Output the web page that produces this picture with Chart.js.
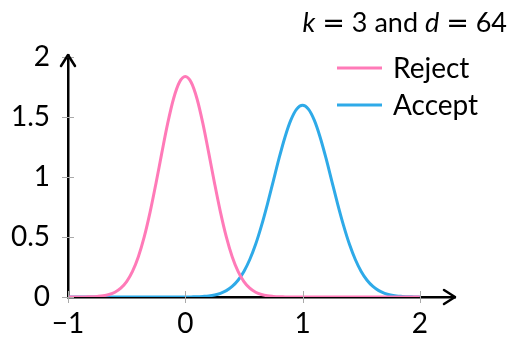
<!DOCTYPE html>
<html>
<head>
<meta charset="utf-8">
<script src="https://cdn.jsdelivr.net/npm/chart.js@4.4.1/dist/chart.umd.min.js"></script>
<style>
  html, body { margin: 0; padding: 0; background: #fff; }
  #wrap { width: 510px; height: 339px; }
</style>
</head>
<body>
<div id="wrap"><canvas id="chart" width="510" height="339"></canvas></div>
<script>
// x positions (step 0.05 from -1 to 2)
const xValues = [
  -1, -0.95, -0.9, -0.85, -0.8, -0.75, -0.7, -0.65, -0.6, -0.55,
  -0.5, -0.45, -0.4, -0.35, -0.3, -0.25, -0.2, -0.15, -0.1, -0.05,
  0, 0.05, 0.1, 0.15, 0.2, 0.25, 0.3, 0.35, 0.4, 0.45,
  0.5, 0.55, 0.6, 0.65, 0.7, 0.75, 0.8, 0.85, 0.9, 0.95,
  1, 1.05, 1.1, 1.15, 1.2, 1.25, 1.3, 1.35, 1.4, 1.45,
  1.5, 1.55, 1.6, 1.65, 1.7, 1.75, 1.8, 1.85, 1.9, 1.95, 2
];
const rejectValues = [
  0, 0, 0, 0.001, 0.002, 0.005, 0.010, 0.021, 0.040, 0.074,
  0.129, 0.214, 0.336, 0.501, 0.708, 0.948, 1.203, 1.449, 1.655, 1.792,
  1.84, 1.792, 1.655, 1.449, 1.203, 0.948, 0.708, 0.501, 0.336, 0.214,
  0.129, 0.074, 0.040, 0.021, 0.010, 0.005, 0.002, 0.001, 0, 0,
  0, 0, 0, 0, 0, 0, 0, 0, 0, 0,
  0, 0, 0, 0, 0, 0, 0, 0, 0, 0, 0
];
const acceptValues = [
  0, 0, 0, 0, 0, 0, 0, 0, 0, 0,
  0, 0, 0, 0, 0, 0, 0, 0, 0, 0,
  0, 0.001, 0.002, 0.005, 0.009, 0.017, 0.031, 0.053, 0.088, 0.140,
  0.213, 0.313, 0.440, 0.596, 0.774, 0.966, 1.159, 1.334, 1.476, 1.568,
  1.6, 1.568, 1.476, 1.334, 1.159, 0.966, 0.774, 0.596, 0.440, 0.313,
  0.213, 0.140, 0.088, 0.053, 0.031, 0.017, 0.009, 0.005, 0.002, 0.001, 0
];
const xTicks = [-1, 0, 1, 2];
const yTicks = [0, 0.5, 1, 1.5, 2];
const seriesNames = ['Reject', 'Accept'];

const PINK = '#ff7ab8';
const BLUE = '#2eaae8';
const FONT = 'Lato, "Open Sans", sans-serif';
const MATH = '"DejaVu Sans", sans-serif';

function pts(ys) {
  return xValues.map((x, i) => ({ x: x, y: ys[i] }));
}

function fmtTick(v) {
  // minus sign like the reference
  return v < 0 ? '\u2212' + Math.abs(v) : String(v);
}

// arrows, tick marks, title and legend
const decorPlugin = {
  id: 'decor',
  afterDatasetsDraw(chart) {
    const ctx = chart.ctx;
    const xs = chart.scales.x, ys = chart.scales.y;
    const x0 = xs.getPixelForValue(-1);
    const y0 = ys.getPixelForValue(0);
    const right = chart.chartArea.right, top = chart.chartArea.top;

    ctx.save();
    // small grey ticks crossing the axes
    ctx.strokeStyle = '#aaa';
    ctx.lineWidth = 1;
    yTicks.forEach(v => {
      const y = Math.round(ys.getPixelForValue(v)) + 0.5;
      ctx.beginPath(); ctx.moveTo(x0 - 6, y); ctx.lineTo(x0 + 6, y); ctx.stroke();
    });
    xTicks.forEach(v => {
      const x = Math.round(xs.getPixelForValue(v)) + 0.5;
      ctx.beginPath(); ctx.moveTo(x, y0 - 6); ctx.lineTo(x, y0 + 6); ctx.stroke();
    });

    // arrow heads
    ctx.strokeStyle = '#000';
    ctx.lineWidth = 2.5;
    ctx.lineCap = 'round';
    ctx.lineJoin = 'round';
    ctx.beginPath();
    ctx.moveTo(right - 11, y0 - 7); ctx.lineTo(right, y0); ctx.lineTo(right - 11, y0 + 7);
    ctx.stroke();
    ctx.beginPath();
    ctx.moveTo(x0 - 7, top + 11); ctx.lineTo(x0, top); ctx.lineTo(x0 + 7, top + 11);
    ctx.stroke();

    // title with italic k and d and wide "=" signs
    ctx.fillStyle = '#000';
    ctx.textBaseline = 'alphabetic';
    const parts = [
      ['k', 'italic 27px ' + FONT], [' ', '27px ' + FONT], ['=', '27px ' + MATH],
      [' 3 and ', '27px ' + FONT], ['d', 'italic 27px ' + FONT], [' ', '27px ' + FONT],
      ['=', '27px ' + MATH], [' 64', '27px ' + FONT]
    ];
    let w = 0;
    parts.forEach(p => { ctx.font = p[1]; w += ctx.measureText(p[0]).width; });
    let tx = 507 - w;
    parts.forEach(p => {
      ctx.font = p[1];
      ctx.fillText(p[0], tx, 32);
      tx += ctx.measureText(p[0]).width;
    });

    // legend
    const colors = [PINK, BLUE];
    const rows = [68, 105];
    ctx.font = '28px ' + FONT;
    ctx.textBaseline = 'middle';
    seriesNames.forEach((name, i) => {
      ctx.strokeStyle = colors[i];
      ctx.lineWidth = 3;
      ctx.lineCap = 'butt';
      ctx.beginPath(); ctx.moveTo(337, rows[i]); ctx.lineTo(382, rows[i]); ctx.stroke();
      ctx.fillStyle = '#000';
      ctx.fillText(name, 393, rows[i] + 1);
    });
    ctx.restore();
  }
};

new Chart(document.getElementById('chart'), {
  type: 'line',
  data: {
    datasets: [
      { label: seriesNames[0], data: pts(rejectValues), borderColor: PINK, borderWidth: 3, pointRadius: 0, tension: 0.4, cubicInterpolationMode: 'monotone' },
      { label: seriesNames[1], data: pts(acceptValues), borderColor: BLUE, borderWidth: 3, pointRadius: 0, tension: 0.4, cubicInterpolationMode: 'monotone' }
    ]
  },
  options: {
    responsive: false,
    animation: false,
    layout: { padding: { top: 55, right: 55, left: 0, bottom: 0 } },
    plugins: { legend: { display: false }, tooltip: { enabled: false } },
    scales: {
      x: {
        type: 'linear',
        min: -1,
        max: 2.3,
        afterBuildTicks: s => { s.ticks = xTicks.map(v => ({ value: v })); },
        afterFit: s => { s.height = 42; },
        grid: { display: false, drawTicks: false },
        border: { display: true, color: '#000', width: 2.5 },
        ticks: { color: '#000', font: { family: FONT, size: 28 }, padding: 10, maxRotation: 0, callback: v => fmtTick(v) }
      },
      y: {
        min: 0,
        max: 2.02,
        afterBuildTicks: s => { s.ticks = yTicks.map(v => ({ value: v })); },
        afterFit: s => { s.width = 68; },
        grid: { display: false, drawTicks: false },
        border: { display: true, color: '#000', width: 2.5 },
        ticks: { color: '#000', font: { family: FONT, size: 28 }, padding: 18, callback: v => fmtTick(v) }
      }
    }
  },
  plugins: [decorPlugin]
});
</script>
</body>
</html>
